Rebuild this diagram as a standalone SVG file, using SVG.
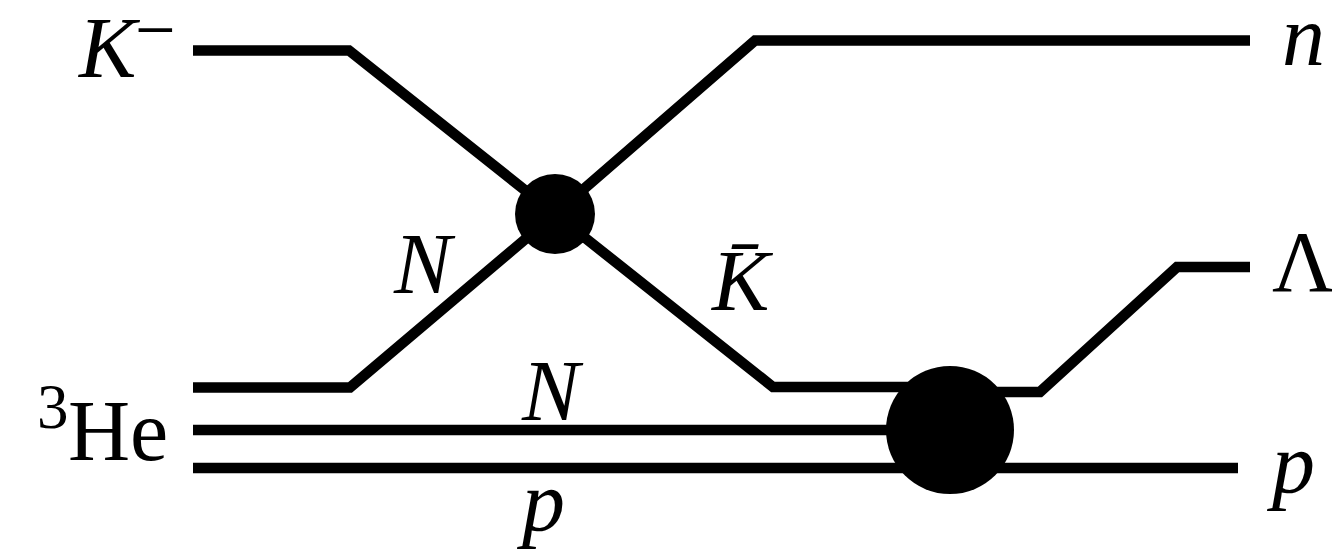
<svg xmlns="http://www.w3.org/2000/svg" width="1332" height="550" viewBox="0 0 1332 550">
<style>
.ln{fill:none;stroke:#000;stroke-width:10.5;stroke-linejoin:miter;stroke-linecap:butt}
.v{fill:#000}
.t{font-family:"Liberation Serif",serif;font-size:86px;fill:#000}
.s{font-size:63px}
.m{font-size:72px}
.i{font-style:italic}
</style>
<rect width="1332" height="550" fill="#fff"/>
<g id="connectors">
<polyline class="ln" points="193,50.5 349,50.5 555,214"/>
<polyline class="ln" points="555,214 755,40.5 1250,40.5"/>
<polyline class="ln" points="193,387.5 350,387.5 555,214"/>
<polyline class="ln" points="555,214 773,387 950,387 950,392 1040,392 1177,267 1250,267"/>
<line class="ln" x1="193" y1="430" x2="950" y2="430"/>
<line class="ln" x1="193" y1="468" x2="1238" y2="468"/>
</g>
<g id="vertex1"><circle class="v" cx="555" cy="214" r="40"/></g>
<g id="vertex2"><circle class="v" cx="950" cy="430" r="64"/></g>
<g id="label-Kminus">
<text class="t i" x="79" y="77">K</text>
<text class="t m" x="135" y="54">−</text>
</g>
<g id="label-He3">
<text class="t s" x="37" y="428">3</text>
<text class="t" x="68" y="460">He</text>
</g>
<g id="label-N1"><text class="t i" x="394" y="293">N</text></g>
<g id="label-Kbar"><text class="t i" x="712" y="310">K̄</text></g>
<g id="label-N2"><text class="t i" x="522" y="420">N</text></g>
<g id="label-p1"><text class="t i" x="522" y="530">p</text></g>
<g id="label-n"><text class="t i" x="1282" y="65">n</text></g>
<g id="label-Lambda"><text class="t" x="1272" y="291">Λ</text></g>
<g id="label-p2"><text class="t i" x="1272" y="492">p</text></g>
</svg>
